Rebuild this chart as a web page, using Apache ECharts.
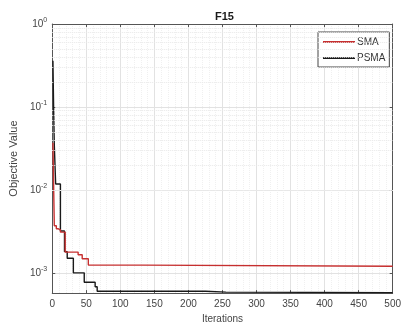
<!DOCTYPE html>
<html>
<head>
<meta charset="utf-8">
<script src="https://cdn.jsdelivr.net/npm/echarts@6/dist/echarts.min.js"></script>
<style>
  html, body { margin: 0; padding: 0; background: #fff; }
  #chart { width: 404px; height: 329px; }
</style>
</head>
<body>
<div id="chart"></div>
<script>
// change points (iteration where the best value changes)
const smaIter = [1, 3, 6, 9, 12, 19, 38, 44, 53, 133, 500];
const smaVal = [0.037, 0.0037, 0.0034, 0.0033, 0.0031, 0.00178, 0.00165, 0.00148, 0.00124, 0.0012, 0.0012];

const psmaIter = [1, 2, 3, 5, 12, 18, 22, 31, 47, 63, 66, 225, 255, 500];
const psmaVal = [0.36, 0.1, 0.035, 0.0118, 0.0032, 0.0018, 0.0015, 0.001, 0.00077, 0.00068, 0.0006, 0.000585, 0.000577, 0.000577];

const decades = [0.0001, 0.001, 0.01, 0.1];
const yMin = 0.00057;

const font = '"Liberation Sans", Arial, sans-serif';

// dotted minor grid at 2..9 x 10^n
const minorY = [];
decades.forEach((d) => {
  for (let k = 2; k <= 9; k++) if (d * k > yMin) minorY.push({ yAxis: d * k });
});

const chart = echarts.init(document.getElementById('chart'));

const option = {
  animation: false,
  textStyle: { fontFamily: font },
  title: {
    text: 'F15',
    left: 210,
    top: 6,
    textStyle: { fontSize: 11, fontWeight: 'bold', color: '#1a1a1a', fontFamily: font },
  },
  legend: {
    orient: 'vertical',
    left: 318,
    top: 32,
    icon: 'rect',
    itemWidth: 32,
    itemHeight: 2,
    itemGap: 6,
    padding: [5, 4, 4, 5],
    borderColor: '#444',
    borderWidth: 1,
    borderRadius: 0,
    backgroundColor: '#fff',
    textStyle: { fontSize: 10, color: '#333', padding: [0, 0, 0, -3] },
    data: ['SMA', 'PSMA'],
  },
  grid: { left: 50, right: 10, top: 24, bottom: 34, show: false },
  xAxis: [
    {
      type: 'value',
      min: 0,
      max: 500,
      interval: 50,
      name: 'Iterations',
      nameLocation: 'middle',
      nameGap: 20,
      nameTextStyle: { fontSize: 10, color: '#444' },
      axisLine: { onZero: false, lineStyle: { color: '#555', width: 1 } },
      axisTick: { inside: true, length: 3, lineStyle: { color: '#555' } },
      axisLabel: { fontSize: 10, color: '#444', margin: 6 },
      splitLine: { show: true, lineStyle: { color: '#e2e2e2', width: 1 } },
      minorTick: { show: false, splitNumber: 5 },
      minorSplitLine: { show: true, lineStyle: { color: '#f0f0f0', type: 'dotted' } },
    },
    {
      type: 'value',
      position: 'top',
      min: 0,
      max: 500,
      interval: 50,
      axisLine: { show: true, onZero: false, lineStyle: { color: '#555', width: 1 } },
      axisTick: { show: true, inside: true, length: 3, lineStyle: { color: '#555' } },
      axisLabel: { show: false },
      splitLine: { show: false },
    },
  ],
  yAxis: [
    {
      type: 'log',
      logBase: 10,
      min: yMin,
      max: 1,
      name: 'Objective Value',
      nameLocation: 'middle',
      nameGap: 29,
      nameTextStyle: { fontSize: 11, color: '#444' },
      axisLine: { show: true, onZero: false, lineStyle: { color: '#555', width: 1 } },
      axisTick: { inside: true, length: 3, lineStyle: { color: '#555' } },
      axisLabel: {
        showMinLabel: false,
        margin: 5,
        formatter: (v) => {
          const e = Math.round(Math.log10(v));
          if (Math.abs(Math.log10(v) - e) > 1e-6) return '';
          return '{b|10}{s|' + e + '}';
        },
        rich: {
          b: { fontSize: 10, color: '#444', fontFamily: font },
          s: { fontSize: 7, color: '#444', fontFamily: font, verticalAlign: 'top', padding: [0, 0, 7, 0] },
        },
      },
      splitLine: { show: true, lineStyle: { color: '#e2e2e2', width: 1 } },
    },
    {
      type: 'log',
      logBase: 10,
      position: 'right',
      min: yMin,
      max: 1,
      axisLine: { show: true, onZero: false, lineStyle: { color: '#555', width: 1 } },
      axisTick: { show: true, inside: true, length: 3, lineStyle: { color: '#555' } },
      axisLabel: { show: false },
      splitLine: { show: false },
    },
  ],
  series: [
    {
      name: 'minor',
      type: 'line',
      data: [],
      silent: true,
      markLine: {
        silent: true,
        symbol: 'none',
        label: { show: false },
        animation: false,
        lineStyle: { color: '#e8e8e8', type: 'dotted', width: 1 },
        data: minorY,
      },
    },
    {
      name: 'SMA',
      type: 'line',
      step: 'end',
      symbol: 'none',
      color: '#c62f2f',
      lineStyle: { width: 1.4 },
      data: smaIter.map((x, i) => [x, smaVal[i]]),
      z: 3,
    },
    {
      name: 'PSMA',
      type: 'line',
      step: 'end',
      symbol: 'none',
      color: '#1a1a1a',
      lineStyle: { width: 1.4 },
      data: psmaIter.map((x, i) => [x, psmaVal[i]]),
      z: 2,
    },
  ],
};

chart.setOption(option);
</script>
</body>
</html>
